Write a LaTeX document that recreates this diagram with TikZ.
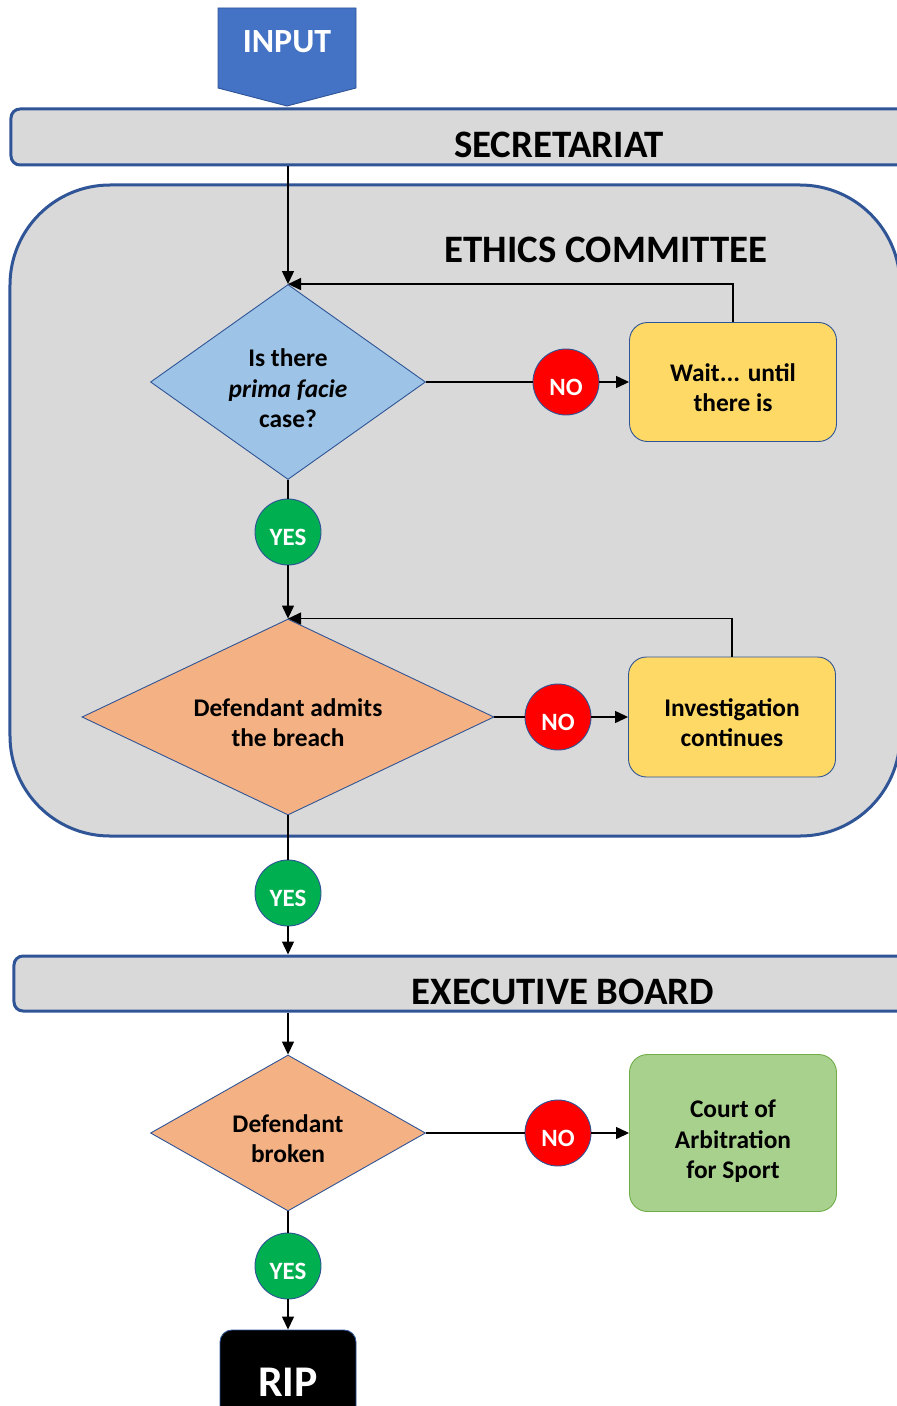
\documentclass[tikz,border=0pt]{standalone}
\usepackage{fontspec}
\setmainfont{Carlito}
\usetikzlibrary{shapes.geometric,arrows.meta,positioning}
\definecolor{frameblue}{HTML}{2F5597}
\definecolor{inputblue}{HTML}{4472C4}
\definecolor{bargrey}{HTML}{D9D9D9}
\definecolor{skyblue}{HTML}{9DC3E6}
\definecolor{peach}{HTML}{F4B183}
\definecolor{boxyellow}{HTML}{FFD966}
\definecolor{courtgreen}{HTML}{A9D18E}
\definecolor{courtedge}{HTML}{70AD47}
\definecolor{yesgreen}{HTML}{00B050}
\newcommand{\ttlfont}{\fontsize{39}{43}\selectfont\bfseries}
\newcommand{\boxfont}{\fontsize{25.5}{30.5}\selectfont\bfseries}
\newcommand{\tagfont}{\fontsize{25}{28}\selectfont\bfseries}
\tikzset{
  bar/.style={
    draw = frameblue,
    line width = 3bp,
    fill = bargrey,
    rounded corners = 9bp,
    inner sep = 0pt
  },
  ttl/.style={
    font = \ttlfont,
    inner sep = 0pt
  },
  twolines/.style={
    text height = 59bp
  },
  threelines/.style={
    text height = 91bp
  },
  decision/.style={
    shape = diamond,
    draw = frameblue,
    line width = 0.9bp,
    inner sep = 0pt,
    align = center,
    twolines,
    font = \boxfont
  },
  outcome/.style={
    shape = rectangle,
    draw = frameblue,
    line width = 0.9bp,
    rounded corners = 18bp,
    align = center,
    twolines,
    font = \boxfont,
    minimum width = 207bp
  },
  nocirc/.style={
    shape = circle,
    draw = frameblue,
    line width = 0.9bp,
    fill = red,
    text = white,
    font = \tagfont,
    text height = 28bp,
    minimum size = 66bp,
    inner sep = 0pt
  },
  yescirc/.style={
    nocirc,
    fill = yesgreen
  },
  link/.style={
    line width = 1.3bp
  },
  flow/.style={
    link,
    -{Triangle[length=13bp,width=12bp]}
  }
}

\begin{document}
\begin{tikzpicture}[x=1bp,y=-1bp]
  \useasboundingbox (0,0) rectangle (896,1406);
  % frames
  \node[bar, rounded corners=100bp, minimum width=890bp, minimum height=651bp] (ethics) at (455,510.5) {};
  \node[bar, minimum width=1096bp, minimum height=56bp] (sec) at (559,137) {};
  \node[bar, minimum width=1098bp, minimum height=55bp] (exec) at (563,983.5) {};
  \node[ttl] (seclabel) at (559,145) {SECRETARIAT};
  \node[ttl] (ethicslabel) at (606,250) {ETHICS COMMITTEE};
  \node[ttl] (execlabel) at (563,992) {EXECUTIVE BOARD};
  % input
  \draw[fill=inputblue, draw=frameblue, line width=0.9bp] (218,8) -- (356,8) -- (356,88) -- (287,106) -- (218,88) -- cycle;
  \node[font=\fontsize{34}{37}\selectfont\bfseries, text=white] (input) at (287,42) {INPUT};
  % ethics committee
  \node[decision, threelines, fill=skyblue, shape aspect=1.41, minimum width=275bp, minimum height=195bp] (prima) at (288,382) {Is there\\\textit{prima facie}\\case?};
  \node[nocirc] (no1) at (566,382) {NO};
  \node[outcome, fill=boxyellow, minimum height=119bp] (wait) at (733,382) {Wait... until\\there is};
  \node[yescirc] (yes1) at (288,532) {YES};
  \node[decision, fill=peach, shape aspect=2.1, minimum width=412bp, minimum height=196bp] (admit) at (288,717) {Defendant admits\\the breach};
  \node[nocirc] (no2) at (558,717) {NO};
  \node[outcome, fill=boxyellow, minimum height=120bp] (invest) at (732,717) {Investigation\\continues};
  \node[yescirc] (yes2) at (288,893) {YES};
  % executive board
  \node[decision, fill=peach, shape aspect=1.76, minimum width=275bp, minimum height=156bp] (broken) at (288,1133) {Defendant\\broken};
  \node[nocirc] (no3) at (558,1133) {NO};
  \node[outcome, threelines, text height=95bp, fill=courtgreen, draw=courtedge, minimum height=157bp] (court) at (733,1133) {Court of\\Arbitration\\for Sport};
  \node[yescirc] (yes3) at (288,1266) {YES};
  \node[outcome, fill=black, text=white, rounded corners=12bp, text height=32bp, minimum width=136bp, minimum height=100bp, font=\fontsize{44}{48}\selectfont\bfseries] (rip) at (288,1380) {RIP};
  % connectors
  \draw[flow] (sec.south -| prima.north) -- (prima.north);
  \draw[link] (prima.east) -- (no1);
  \draw[flow] (no1) -- (wait);
  \draw[flow] (wait.north) |- (prima.north);
  \draw[link] (prima.south) -- (yes1);
  \draw[flow] (yes1) -- (admit.north);
  \draw[link] (admit.east) -- (no2);
  \draw[flow] (no2) -- (invest);
  \draw[flow] (invest.north) |- (admit.north);
  \draw[link] (admit.south) -- (yes2);
  \draw[flow] (yes2) -- (yes2 |- exec.north);
  \draw[flow] (exec.south -| broken.north) -- (broken.north);
  \draw[link] (broken.east) -- (no3);
  \draw[flow] (no3) -- (court);
  \draw[link] (broken.south) -- (yes3);
  \draw[flow] (yes3) -- (rip);
\end{tikzpicture}
\end{document}
